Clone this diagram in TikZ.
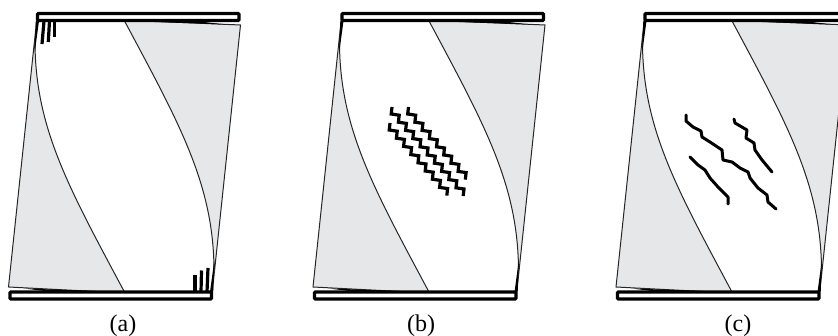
\documentclass[tikz,border=0pt]{standalone}
\usepackage{fontspec}
\setmainfont{Liberation Serif}
\definecolor{panelgray}{HTML}{E6E7E8}
\tikzstyle{beam} = [draw=black, fill=white, line width=3.2pt, rounded corners=1pt]
\tikzstyle{strut} = [fill=panelgray, draw=black!85, line width=1pt]
\tikzstyle{tick} = [black, line width=3.2pt]
\tikzstyle{crack} = [black, line width=3pt, line join=round, line cap=round]
\tikzstyle{stair} = [black, line width=3.2pt, line join=miter]
\tikzstyle{caption} = [inner sep=0pt, font=\fontsize{24}{26}\selectfont]
\newcommand{\stairs}[2]{\draw[stair] (#1) foreach \i in {1,...,#2} { -- ++(-.8,7) -- ++(8,1.2) } -- ++(-.8,7);}
\begin{document}
\begin{tikzpicture}[x=1pt,y=-1pt]
    \useasboundingbox (0,0) rectangle (838,336);

    \foreach \dx in {0,304.5,607.5} {
      \begin{scope}[xshift=\dx pt]
        % compression struts
        \draw[strut] (8.5,287) -- (36.5,22) -- (35,45) .. controls (36,130) and (70,190) .. (125,293) -- cycle;
        \draw[strut] (240.5,25) -- (212.5,290) -- (214,268) .. controls (213,183) and (179,123) .. (124,20) -- cycle;
        \fill[black] (140,21.5) -- (225,24.5) -- (200,21.5) -- cycle;
        \fill[black] (109,291.5) -- (24,288.5) -- (49,291.5) -- cycle;
        % beams
        \draw[beam] (37.5,13.5) rectangle (239,20.5);
        \draw[beam] (10,292) rectangle (211.5,299);
        \fill[black] (39,21) -- (35.8,21) -- (34.8,52) -- cycle;
        \fill[black] (210,292) -- (213.2,292) -- (214.2,261) -- cycle;
      \end{scope}
    }

    \node (capa) [caption] at (123,326) {(a)};
    \node (capb) [caption] at (421,326) {(b)};
    \node (capc) [caption] at (738,326) {(c)};

    % flexural cracks
    \draw[tick] (44,21) -- (42,44);
    \draw[tick] (49.5,21) -- (48.3,42);
    \draw[tick] (54.5,21) -- (54.5,37);
    \draw[tick] (195,292) -- (195,275);
    \draw[tick] (201,292) -- (201.5,270.5);
    \draw[tick] (207,292) -- (208,268);

    % web shear cracks
    \stairs{408.5,107}{8}
    \stairs{392,107}{10}
    \stairs{390,123}{8}

    % diagonal cracks
    \draw[crack] (686,115) -- (686,121) -- (693,127) -- (701,131) -- (702,137) -- (710,142) -- (722,150) -- (723,160) -- (732,162) -- (740,168) -- (748,172) -- (750,178) -- (758,188) -- (767,195) -- (768,202) -- (776,209);
    \draw[crack] (734,119) -- (735,123) -- (747,130) -- (746,138) -- (754,143) -- (755,150) -- (762,160) -- (772,172);
    \draw[crack] (690,157) -- (698,165) -- (705,170) -- (710,178) -- (718,187) -- (728,197) -- (728,204);
\end{tikzpicture}
\end{document}
